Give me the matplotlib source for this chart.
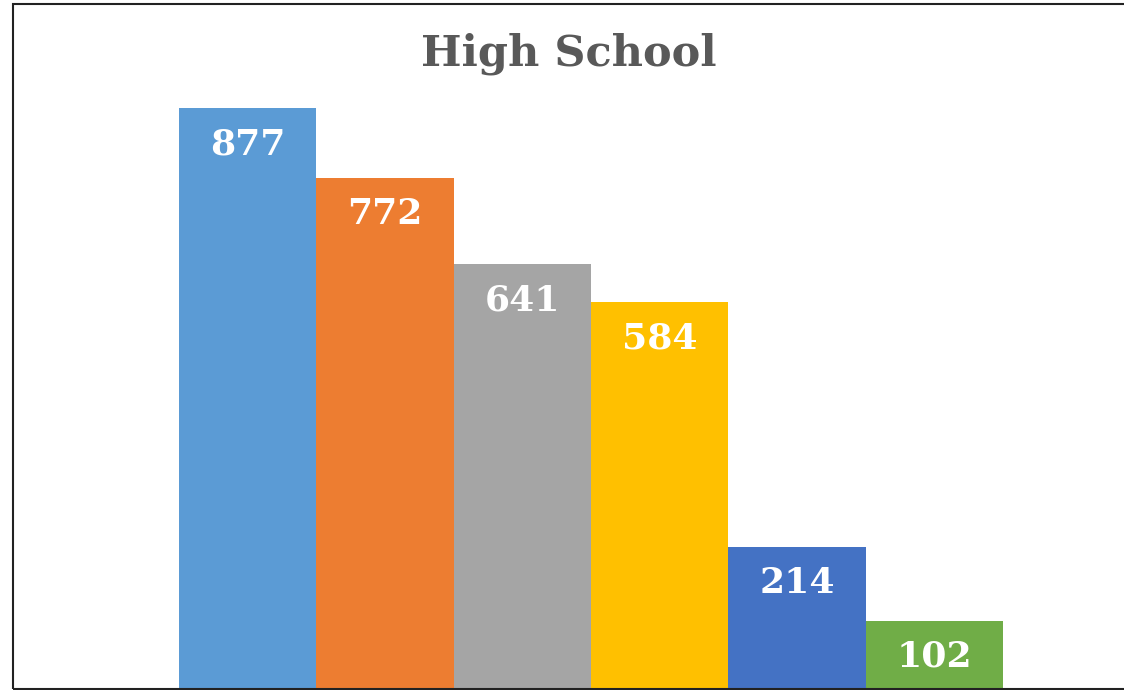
import matplotlib.pyplot as plt
from matplotlib.patches import Rectangle

# enrollment counts, high school
values = [877, 772, 641, 584, 214, 102]
colors = ["#5B9BD5", "#ED7D31", "#A5A5A5", "#FFC000", "#4472C4", "#70AD47"]
title = "High School"

W, H = 1124, 690
fig = plt.figure(figsize=(W / 100, H / 100), dpi=100)

# plot area spans the frame; bars sit on the bottom border
ax = fig.add_axes([13 / W, 2 / H, (W - 13) / W, 661 / H])
positions = list(range(len(values)))
bars = ax.bar(positions, values, width=1.0, color=colors, linewidth=0)

# bars run from x=179px to 1003px inside the frame
px_per_bar = (1003 - 179) / len(values)
ax.set_xlim(-0.5 - (179 - 13) / px_per_bar, len(values) - 0.5 + (W - 1003) / px_per_bar)
ax.set_ylim(0, 1000)
ax.axis("off")

for bar, v in zip(bars, values):
    ax.annotate(
        f"{v}",
        (bar.get_x() + bar.get_width() / 2, v),
        xytext=(0, -26),
        textcoords="offset points",
        ha="center",
        va="center",
        color="white",
        fontsize=26,
        fontweight="bold",
        family="DejaVu Serif",
    )

fig.text(569 / W, 1 - 54 / H, title, ha="center", va="center",
         fontsize=31, fontweight="bold", family="DejaVu Serif", color="#595959")

# outer frame of the chart
fig.patches.append(Rectangle((13 / W, 1 / H), (W + 5 - 13) / W, (H - 5) / H,
                             transform=fig.transFigure, fill=False,
                             edgecolor="#222222", linewidth=1.5))

fig.savefig("out.png", dpi=100)
